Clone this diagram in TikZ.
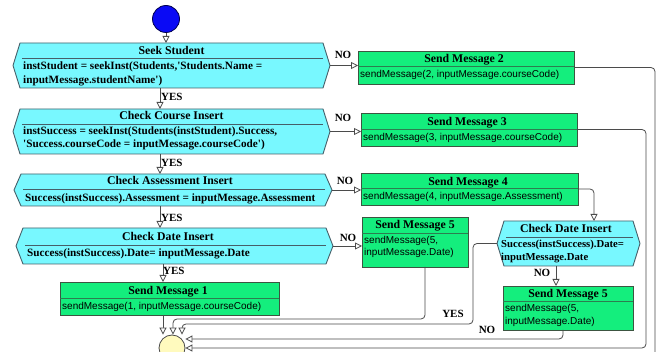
\documentclass[tikz,border=0pt]{standalone}
\usepackage{fontspec}
\setmainfont{Liberation Serif}
\newfontfamily\callfont{Liberation Sans}
\usetikzlibrary{arrows.meta,calc}

\definecolor{hexfill}{RGB}{120,248,255}
\definecolor{hexedge}{RGB}{70,95,105}
\definecolor{boxfill}{RGB}{20,238,125}
\definecolor{boxedge}{RGB}{60,85,65}
\definecolor{boxrule}{RGB}{45,125,80}
\definecolor{wirecol}{RGB}{75,75,75}
\definecolor{endfill}{RGB}{255,250,190}
\definecolor{startfill}{RGB}{10,10,245}

\tikzset{
  frame/.style={inner sep=0pt, outer sep=0pt},
  hexline/.style={draw=hexedge, line width=0.9pt},
  msgbox/.style={draw=boxedge, fill=boxfill, line width=0.9pt, inner sep=0pt, outer sep=0pt},
  title/.style={font=\fontsize{11.8}{13}\selectfont\bfseries, inner sep=0pt, anchor=base},
  code/.style={font=\fontsize{11.2}{13}\selectfont\bfseries, inner sep=0pt, anchor=base west},
  smallcode/.style={code, font=\fontsize{10.7}{13}\selectfont\bfseries},
  call/.style={font=\callfont\fontsize{10}{12}\selectfont, inner sep=0pt, anchor=base west},
  tag/.style={font=\fontsize{11}{13}\selectfont\bfseries, inner sep=0pt},
  conn/.style={draw=wirecol, line width=0.8pt, rounded corners=4pt,
    -{Triangle[length=7pt,width=7pt,fill=white]}},
}

% hexagonal decision outline around a frame node, with the rule under its title
\newcommand\hexoutline[2]{%
  \filldraw[hexline, fill=hexfill] (#1.west) -- ([xshift=7pt]#1.north west)
    -- ([xshift=-7pt]#1.north east) -- (#1.east)
    -- ([xshift=-7pt]#1.south east) -- ([xshift=7pt]#1.south west) -- cycle;
  \draw[hexline] ($(#1.north west)+(9,#2)$) -- ($(#1.north east)+(-7,#2)$);}

% rule under the title of a message box
\newcommand\boxrule[2]{%
  \draw[boxrule, line width=0.7pt] ($(#1.north west)+(0,#2)$) -- ($(#1.north east)+(0,#2)$);}

\begin{document}
\begin{tikzpicture}[x=1pt,y=-1pt]
\useasboundingbox (0,0) rectangle (662,352);
\clip (0,0) rectangle (662,352);

% start and end states
\node[circle, draw=black!70!blue, fill=startfill, line width=0.8pt, minimum size=27pt, inner sep=0pt] (start) at (166,19) {};
\node[circle, draw=wirecol, fill=endfill, line width=0.8pt, minimum size=26pt, inner sep=0pt] (end) at (172,348) {};

% decision frames
\node[frame, minimum width=317pt, minimum height=45pt] (seek)   at (171.5,65.5) {};
\node[frame, minimum width=317pt, minimum height=45pt] (course) at (171.5,131.5) {};
\node[frame, minimum width=318pt, minimum height=32pt] (assess) at (173,190) {};
\node[frame, minimum width=317pt, minimum height=36pt] (date)   at (174.5,246) {};
\node[frame, minimum width=143pt, minimum height=45pt] (date2)  at (568.5,243.5) {};
\hexoutline{seek}{15}
\hexoutline{course}{15}
\hexoutline{assess}{15}
\hexoutline{date}{17}
\hexoutline{date2}{16}

% message boxes
\node[msgbox, minimum width=216pt, minimum height=33pt] (sm2)  at (466,67.5) {};
\node[msgbox, minimum width=216pt, minimum height=33pt] (sm3)  at (469,129.5) {};
\node[msgbox, minimum width=217pt, minimum height=32pt] (sm4)  at (469.5,189) {};
\node[msgbox, minimum width=106pt, minimum height=50pt] (sm5a) at (415,242) {};
\node[msgbox, minimum width=130pt, minimum height=44pt] (sm5b) at (568,308) {};
\node[msgbox, minimum width=219pt, minimum height=33pt] (sm1)  at (169.5,298.5) {};
\boxrule{sm2}{15}
\boxrule{sm3}{16}
\boxrule{sm4}{15}
\boxrule{sm5a}{16}
\boxrule{sm5b}{15}
\boxrule{sm1}{16}

% decision texts
\node[title] at (171.5,55) {Seek Student};
\node[code] at (23,70) {instStudent = seekInst(Students,\textquotesingle Students.Name =};
\node[code] at (23,84) {inputMessage.studentName\textquotesingle)};
\node[title] at (171.5,120) {Check Course Insert};
\node[code] at (23,135) {instSuccess = seekInst(Students(instStudent).Success,};
\node[code] at (23,148) {\textquotesingle Success.courseCode = inputMessage.courseCode\textquotesingle)};
\node[title] at (170,185) {Check Assessment Insert};
\node[code] at (25,202) {Success(instSuccess).Assessment = inputMessage.Assessment};
\node[title] at (168,241) {Check Date Insert};
\node[code] at (27,257) {Success(instSuccess).Date= inputMessage.Date};
\node[title] at (566,233) {Check Date Insert};
\node[smallcode] at (501,248) {Success(instSuccess).Date=};
\node[smallcode] at (501,261) {inputMessage.Date};

% message texts
\node[title] at (464,63) {Send Message 2};
\node[call] at (360,78) {sendMessage(2, inputMessage.courseCode)};
\node[title] at (467,126) {Send Message 3};
\node[call] at (363,141) {sendMessage(3, inputMessage.courseCode)};
\node[title] at (468,186) {Send Message 4};
\node[call] at (363,200) {sendMessage(4, inputMessage.Assessment)};
\node[title] at (415,229) {Send Message 5};
\node[call] at (364,244) {sendMessage(5,};
\node[call] at (364,256) {inputMessage.Date)};
\node[title] at (568,298) {Send Message 5};
\node[call] at (505,312) {sendMessage(5,};
\node[call] at (505,325) {inputMessage.Date)};
\node[title] at (168,295) {Send Message 1};
\node[call] at (62,310) {sendMessage(1, inputMessage.courseCode)};

% main line
\coordinate (spine) at (160,0);
\coordinate (spineb) at (163,0);
\draw[conn] (start.south) -- (start.south |- seek.north);
\draw[conn] (seek.south -| spine) -- (course.north -| spine);
\draw[conn] (course.south -| spine) -- (assess.north -| spine);
\draw[conn] (assess.south -| spine) -- (date.north -| spine);
\draw[conn] (date.south -| spineb) -- (sm1.north -| spineb);
\draw[conn] (sm1.south -| spineb) -- (spineb |- end.north);
\node[tag, anchor=west] at (161,97) {YES};
\node[tag, anchor=west] at (161,163) {YES};
\node[tag, anchor=west] at (161,218) {YES};
\node[tag, anchor=west] at (163,271) {YES};

% failure branches
\draw[conn] (seek.east) -- (sm2.west |- seek.east);
\draw[conn] (course.east) -- (sm3.west |- course.east);
\draw[conn] (assess.east) -- (sm4.west |- assess.east);
\draw[conn] (date.east) -- (sm5a.west |- date.east);
\node[tag] at (343,55) {NO};
\node[tag] at (343,118) {NO};
\node[tag] at (345,181) {NO};
\node[tag] at (348,238) {NO};

% second date check
\draw[conn] (sm4.east) -| ([xshift=25.5pt]date2.north);
\draw[conn] ([xshift=-12.5pt]date2.south) -- ([xshift=-12.5pt]date2.south |- sm5b.north);
\node[tag] at (542,273) {NO};

% returns to the end state
\coordinate (yesdrop) at (473,324);
\coordinate (middrop) at (425,319);
\coordinate (nodrop) at (563,339);
\coordinate (sm3turn) at (646,348);
\coordinate (sm2turn) at (655,357);
\draw[conn] (date2.west) -| (yesdrop) -| ([xshift=10pt]end.north);
\draw[conn] (sm5a.south -| middrop) -- (middrop) -| ([xshift=1pt]end.north);
\draw[conn] (sm5b.south -| nodrop) -- (nodrop) -- (end.east |- nodrop);
\draw[conn] (sm3.east) -| (sm3turn) -- (end.east);
\draw[conn] (sm2.east) -| (sm2turn) -- (end.south east);
\node[tag] at (453,314) {YES};
\node[tag] at (487,330) {NO};
\end{tikzpicture}
\end{document}
